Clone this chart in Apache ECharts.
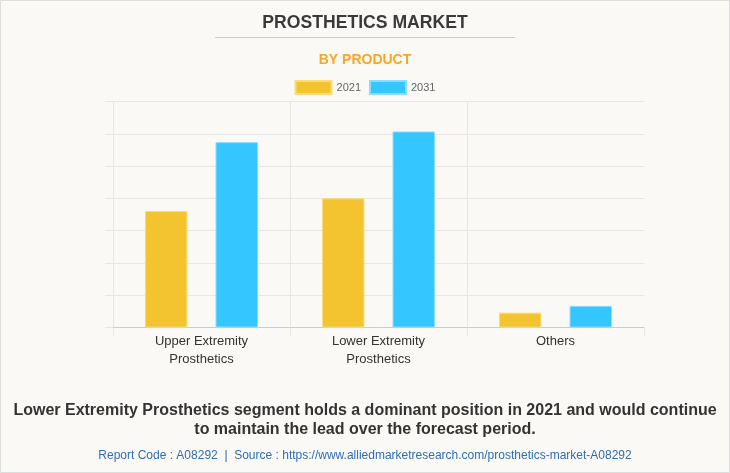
<!DOCTYPE html>
<html>
<head>
<meta charset="utf-8">
<script src="https://cdn.jsdelivr.net/npm/echarts@6/dist/echarts.min.js"></script>
<style>
  html, body { margin: 0; padding: 0; background: #faf9f5; }
  #chart { width: 730px; height: 473px; }
</style>
</head>
<body>
<div id="chart"></div>
<script>
// data (unit-less, axis labels hidden)
const categories = ['Upper Extremity\nProsthetics', 'Lower Extremity\nProsthetics', 'Others'];
const seriesNames = ['2021', '2031'];
const values2021 = [3.61, 4.0, 0.46];
const values2031 = [5.74, 6.07, 0.67];
const colors = ['#f4c430', '#33c6ff'];

const chart = echarts.init(document.getElementById('chart'));

const option = {
  backgroundColor: '#faf9f5',
  animation: false,
  textStyle: { fontFamily: 'Liberation Sans, Arial, sans-serif' },
  title: [
    {
      text: 'PROSTHETICS MARKET',
      left: 'center',
      top: 9,
      textStyle: { fontSize: 17.6, fontWeight: 'bold', color: '#3a3a3a', fontFamily: 'Liberation Sans, Arial, sans-serif' },
    },
    {
      text: 'BY PRODUCT',
      left: 'center',
      top: 48,
      textStyle: { fontSize: 14, fontWeight: 'bold', color: '#f7a823', fontFamily: 'Liberation Sans, Arial, sans-serif' },
    },
    {
      text: 'Lower Extremity Prosthetics segment holds a dominant position in 2021 and would continue\nto maintain the lead over the forecast period.',
      left: 'center',
      top: 396,
      textStyle: { fontSize: 16, fontWeight: 'bold', color: '#333', lineHeight: 19, align: 'center', fontFamily: 'Liberation Sans, Arial, sans-serif' },
    },
    {
      text: 'Report Code : A08292  |  Source : https://www.alliedmarketresearch.com/prosthetics-market-A08292',
      left: 'center',
      top: 445,
      textStyle: { fontSize: 12, fontWeight: 'normal', color: '#2f6db5', fontFamily: 'Liberation Sans, Arial, sans-serif' },
    },
  ],
  graphic: [
    { type: 'line', shape: { x1: 215, y1: 37.5, x2: 515, y2: 37.5 }, style: { stroke: '#cccccc', lineWidth: 1 } },
    { type: 'rect', shape: { x: 0.5, y: 0.5, width: 729, height: 472 }, style: { fill: null, stroke: '#dddddd', lineWidth: 1 }, silent: true },
  ],
  legend: {
    top: 75,
    left: 'center',
    itemWidth: 36,
    itemHeight: 13,
    itemGap: 8,
    icon: 'rect',
    textStyle: { fontSize: 11, color: '#666' },
    data: seriesNames,
  },
  grid: { left: 113, right: 86, top: 101.5, bottom: 145.5 },
  xAxis: {
    type: 'category',
    data: categories,
    axisLine: { lineStyle: { color: '#cccccc' } },
    axisTick: { show: true, length: 8, lineStyle: { color: '#e6e6e6' } },
    splitLine: { show: true, showMaxLine: false, lineStyle: { color: '#e6e6e6' } },
    axisLabel: { fontSize: 13, color: '#333', lineHeight: 18, margin: 5 },
  },
  yAxis: {
    type: 'value',
    min: 0,
    max: 7,
    interval: 1,
    axisLine: { show: false },
    axisTick: { show: true, length: 8, lineStyle: { color: '#e6e6e6' } },
    axisLabel: { show: false },
    splitLine: { lineStyle: { color: '#e6e6e6' } },
  },
  series: [
    {
      name: seriesNames[0],
      type: 'bar',
      data: values2021,
      barWidth: 42.5,
      barGap: '66%',
      itemStyle: { color: colors[0], borderColor: '#f8dc7e', borderWidth: 1 },
    },
    {
      name: seriesNames[1],
      type: 'bar',
      data: values2031,
      barWidth: 42.5,
      barGap: '66%',
      itemStyle: { color: colors[1], borderColor: '#8cdcff', borderWidth: 1 },
    },
  ],
};

chart.setOption(option);
</script>
</body>
</html>
